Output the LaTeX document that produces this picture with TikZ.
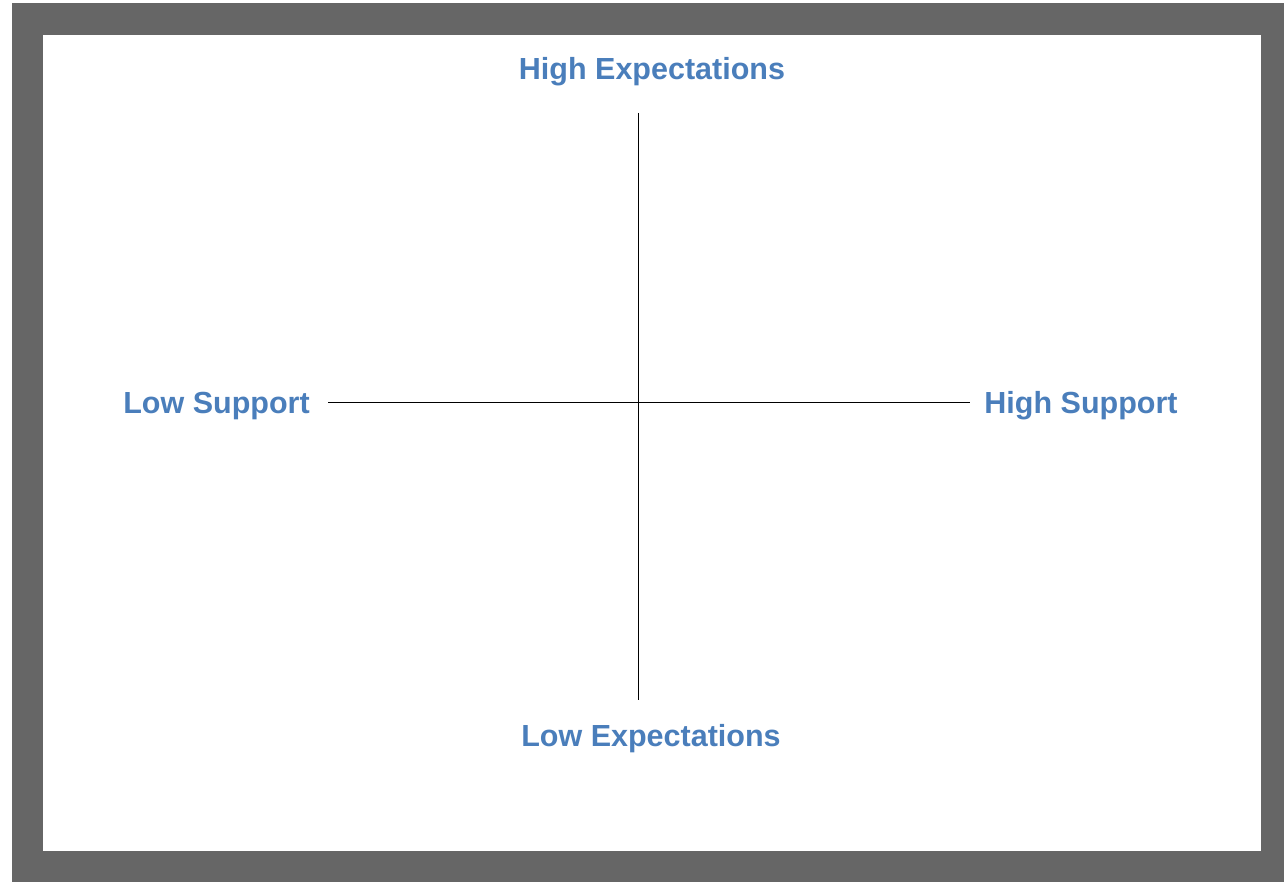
\documentclass[tikz,border=0pt]{standalone}
\usepackage{fontspec}
\setmainfont{Liberation Sans}
\usepackage{xcolor}
\definecolor{frameGray}{HTML}{666666}
\definecolor{labelBlue}{HTML}{4A7EBB}
\usetikzlibrary{positioning}
\tikzset{
  axisLabel/.style={%
    text=labelBlue,
    font=\bfseries\fontsize{30.5}{36}\selectfont,
    inner sep=0pt,
    anchor=base},
  axisLine/.style={%
    draw,
    black,
    line width=1pt},
  }

\begin{document}
\begin{tikzpicture}[x=1pt,y=-1pt]
  \useasboundingbox (0,0) rectangle (1284,882);
  \fill[white] (0,0) rectangle (1284,882);
  \fill[frameGray] (12,3) rectangle (1284,882);
  \fill[white] (43,35) rectangle (1261,851);
  % labels
  \node[axisLabel] (highExp) at (652,79.5) {High Expectations};
  \node[axisLabel] (lowExp) at (651,746) {Low Expectations};
  \node[axisLabel] (lowSup) at (216.5,413.5) {Low Support};
  \node[axisLabel] (highSup) at (1081,413.5) {High Support};
  % axes
  \coordinate (axisTop) at (638,113);
  \coordinate (axisBottom) at (638,700);
  \coordinate (axisLeft) at (328,402);
  \coordinate (axisRight) at (970,402);
  \draw[axisLine] (axisTop) -- (axisBottom);
  \draw[axisLine] (axisLeft) -- (axisRight);
\end{tikzpicture}
\end{document}
